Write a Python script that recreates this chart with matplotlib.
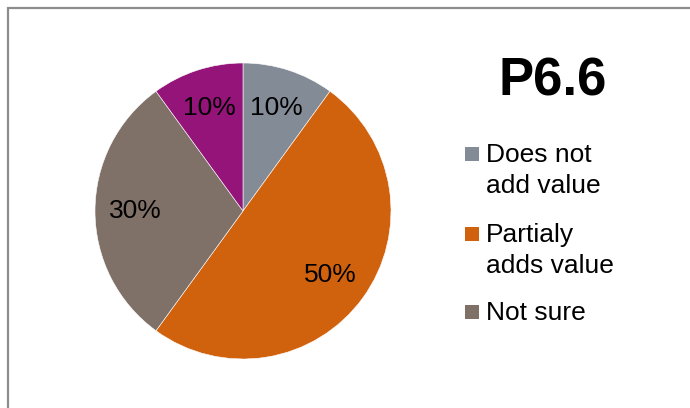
import matplotlib.pyplot as plt
from matplotlib.patches import Rectangle

plt.rcParams['font.family'] = ['Liberation Sans', 'DejaVu Sans']

# data
labels = ["Does not\nadd value", "Partialy\nadds value", "Not sure", "Other"]
shares = [10, 50, 30, 10]
colors = ["#838b97", "#d0620e", "#7f7068", "#941479"]
title = "P6.6"

fig = plt.figure(figsize=(6.9, 4.08), dpi=100)
W, H = 690, 408

# grey frame around the chart area (cut off at right / bottom)
fig.patches.append(Rectangle((8 / W, -0.05), 1.1, 1 - 8 / H + 0.05,
                             transform=fig.transFigure, fill=False,
                             edgecolor="#8c8c8c", linewidth=1.6))

cx, cy, r = 243, 211, 148
ax = fig.add_axes([(cx - r) / W, (H - cy - r) / H, 2 * r / W, 2 * r / H])
wedges, texts, autotexts = ax.pie(shares, colors=colors, startangle=90, counterclock=False,
                                  autopct="%d%%", pctdistance=0.73,
                                  wedgeprops=dict(edgecolor="white", linewidth=0.4),
                                  textprops=dict(fontsize=19, color="black"))
ax.set_xlim(-1, 1)
ax.set_ylim(-1, 1)
ax.set_aspect("equal")
ax.axis("off")

fig.text(553 / W, 1 - 81 / H, title, fontsize=38, fontweight="bold",
         ha="center", va="center")

# legend drawn by hand: Excel puts the swatch next to the first line
baselines = [162, 242, 320]
for lab, col, yb in zip(labels[:3], colors[:3], baselines):
    fig.patches.append(Rectangle((465 / W, 1 - (yb - 1) / H), 14 / W, 14 / H,
                                 transform=fig.transFigure, facecolor=col,
                                 edgecolor="none"))
    for k, line in enumerate(lab.split("\n")):
        fig.text(486 / W, 1 - (yb + 31 * k) / H, line, fontsize=19,
                 va="baseline", ha="left")

fig.savefig("out.png", dpi=100)
